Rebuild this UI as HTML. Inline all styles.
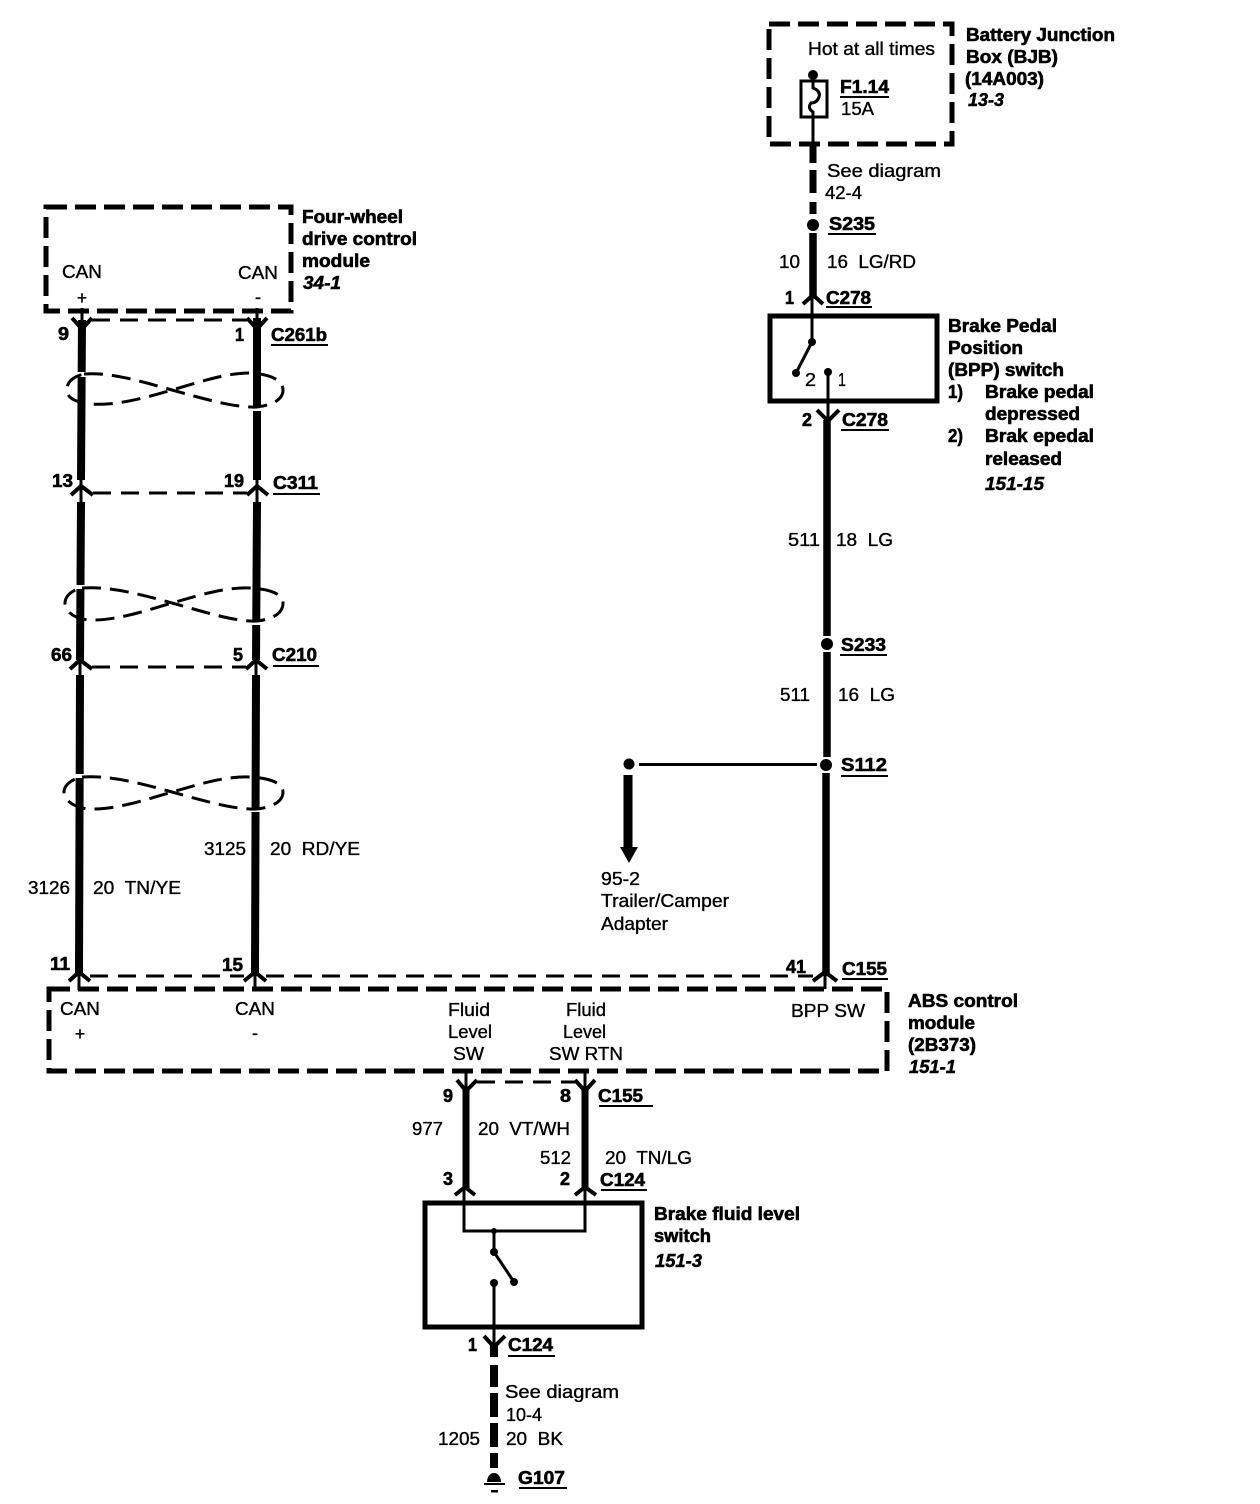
<!DOCTYPE html>
<html><head><meta charset="utf-8"><style>
html,body{margin:0;padding:0;background:#fff}
svg{display:block}
text{font-family:"Liberation Sans",sans-serif;font-size:18px;fill:#000;white-space:pre}
.b{font-weight:bold;stroke:#000;stroke-width:.6}
.i{font-weight:bold;font-style:italic;stroke:#000;stroke-width:.5}
.r{stroke:#000;stroke-width:.35}
.box{fill:none;stroke:#000;stroke-width:5;stroke-dasharray:21 8}
.solid{fill:none;stroke:#000;stroke-width:5}
.w{fill:none;stroke:#000;stroke-width:7.5}
.t{fill:none;stroke:#000;stroke-width:3}
.d{fill:none;stroke:#000;stroke-width:3;stroke-dasharray:18 10}
.c{fill:none;stroke:#000;stroke-width:4}
.tw{fill:none;stroke:#000;stroke-width:3;stroke-dasharray:19 9}
</style></head><body>
<svg width="1260" height="1504" viewBox="0 0 1260 1504" xmlns="http://www.w3.org/2000/svg">
<rect width="1260" height="1504" fill="#fff"/>
<!-- boxes -->
<rect class="box" x="769" y="24" width="183" height="120"/>
<rect class="box" x="46" y="207" width="245" height="104"/>
<rect class="box" x="49" y="989" width="838" height="82"/>
<rect class="solid" x="770" y="316" width="167" height="85"/>
<rect class="solid" x="425" y="1203" width="217" height="124"/>
<!-- BJB -->
<circle cx="813" cy="75" r="5"/>
<rect x="801" y="81" width="26" height="36" fill="#fff" stroke="#000" stroke-width="3"/>
<path class="t" d="M813 78V88Q821 91 819 97T811 103Q807 108 813 112V144"/>
<path d="M813 145V217" fill="none" stroke="#000" stroke-width="7" stroke-dasharray="18 7 23 9 12 99"/>
<circle cx="813" cy="225" r="6"/>
<path class="w" d="M813 233V296"/>
<path class="c" d="M803 304L813 295L823 304"/>
<path class="t" d="M812 296V342"/>
<!-- BPP -->
<circle cx="812" cy="342" r="4"/><circle cx="796" cy="373" r="4"/>
<path class="t" d="M812 342L796 373"/>
<circle cx="828" cy="372" r="4"/><path class="t" d="M828 372V420"/>
<path class="c" d="M817 410L828 421L839 410"/>
<path class="w" d="M827 420V636"/>
<circle cx="827" cy="644" r="6"/>
<path class="w" d="M827 652V757"/>
<circle cx="826" cy="765" r="6"/>
<path class="w" d="M826 773V975"/>
<path class="c" d="M813 981L825 972L837 981"/>
<path class="t" d="M825 975V989"/>
<!-- trailer branch -->
<circle cx="629" cy="764" r="5.5"/>
<path class="t" d="M639 764.5H817"/>
<path d="M628 775V848" fill="none" stroke="#000" stroke-width="9"/>
<path d="M620 847H638L629 863Z"/>
<!-- left wires -->
<path d="M82 320L81 480M81 502L80 660M80 675L79 975" fill="none" stroke="#000" stroke-width="8"/>
<path d="M257 318V480M257 502L256 660M256 675L255 975" fill="none" stroke="#000" stroke-width="8"/>
<path class="t" d="M81 478V504M257 478V504M80 658V677M256 658V677M79 973V990M255 973V990M82 308V325M257 308V325"/>
<!-- wire gaps at twists -->
<rect x="74" y="372" width="16" height="5" fill="#fff"/>
<rect x="250" y="407" width="16" height="4" fill="#fff"/>
<rect x="72" y="585" width="16" height="4" fill="#fff"/>
<rect x="248" y="621" width="16" height="4" fill="#fff"/>
<rect x="71" y="774" width="16" height="4" fill="#fff"/>
<rect x="248" y="808" width="16" height="4" fill="#fff"/>
<!-- twists -->
<path class="tw" d="M84 374C110 372 140 381 172 390C205 399 235 408 257 407C275 405 283 398 283 390C283 380 270 374 250 373C225 373 200 382 172 390C145 398 115 406 90 404C75 402 67 398 67 390C67 382 72 377 84 374"/>
<path class="tw" d="M82 588C108 586 140 594 172 603C205 612 235 622 257 621C275 619 283 612 283 603C283 594 270 589 250 588C225 587 200 595 172 603C145 611 115 621 88 620C73 618 65 611 65 603C65 596 72 590 82 588"/>
<path class="tw" d="M82 777C108 775 140 783 172 792C205 801 235 810 257 809C275 807 283 800 283 792C283 783 270 778 250 777C225 776 200 784 172 792C145 800 115 810 88 809C73 807 64 800 64 792C64 785 72 779 82 777"/>
<!-- connector chevrons -->
<path class="c" d="M72 318L82 329L92 318"/><path class="c" d="M247 318L257 329L267 318"/>
<path class="d" d="M92 320H247"/>
<path class="c" d="M71 495L81 486L93 495"/><path class="c" d="M247 495L257 486L268 495"/>
<path class="d" d="M93 493H247"/>
<path class="c" d="M70 669L80 660L92 669"/><path class="c" d="M246 669L256 660L267 669"/>
<path class="d" d="M92 667H246"/>
<path class="c" d="M69 981L79 972L90 981"/><path class="c" d="M244 981L255 972L266 981"/>
<path class="d" d="M90 976H244M266 976H813"/>
<!-- lower wires -->
<path class="t" d="M466 1071V1090M585 1071V1090"/>
<path class="c" d="M457 1080L466 1091L477 1080"/><path class="c" d="M575 1080L585 1091L595 1080"/>
<path class="d" d="M477 1082H575"/>
<path d="M466 1088V1188M585 1088V1188" fill="none" stroke="#000" stroke-width="7"/>
<path class="c" d="M455 1195L465 1187L475 1195"/><path class="c" d="M575 1195L585 1187L596 1195"/>
<path class="t" d="M464 1186V1231H585V1186"/>
<path class="t" d="M494 1231V1252"/>
<circle cx="494" cy="1231" r="3"/><circle cx="494" cy="1252" r="4"/><circle cx="514" cy="1282" r="4"/>
<path class="t" d="M494 1252L514 1282"/>
<circle cx="494" cy="1283" r="4"/><path class="t" d="M494 1283V1346"/>
<path class="c" d="M484 1336L494 1347L505 1336"/>
<path d="M494 1345V1357M494 1365V1387M494 1393V1417M494 1423V1447M494 1453V1468" fill="none" stroke="#000" stroke-width="8"/>
<path d="M487 1482A7 9 0 0 1 501 1482Z"/>
<rect x="484" y="1483" width="21" height="2"/>
<rect x="491" y="1490" width="7" height="2.5"/>
<!-- text: BJB -->
<text class="r" x="808" y="55" textLength="127" lengthAdjust="spacingAndGlyphs">Hot at all times</text>
<text class="b" x="840" y="93" textLength="49" lengthAdjust="spacingAndGlyphs">F1.14</text>
<rect x="840" y="96" width="49" height="2"/>
<text class="r" x="841" y="115" textLength="33" lengthAdjust="spacingAndGlyphs">15A</text>
<text class="b" x="966" y="41" textLength="149" lengthAdjust="spacingAndGlyphs">Battery Junction</text>
<text class="b" x="966" y="63" textLength="92" lengthAdjust="spacingAndGlyphs">Box (BJB)</text>
<text class="b" x="965" y="85" textLength="79" lengthAdjust="spacingAndGlyphs">(14A003)</text>
<text class="i" x="968" y="106" textLength="36" lengthAdjust="spacingAndGlyphs">13-3</text>
<text class="r" x="827" y="177" textLength="114" lengthAdjust="spacingAndGlyphs">See diagram</text>
<text class="r" x="825" y="199" textLength="37" lengthAdjust="spacingAndGlyphs">42-4</text>
<text class="b" x="829" y="230" textLength="46" lengthAdjust="spacingAndGlyphs">S235</text>
<rect x="828" y="233" width="48" height="2"/>
<text class="r" x="779" y="268" textLength="21" lengthAdjust="spacingAndGlyphs">10</text>
<text class="r" x="827" y="268" textLength="89" lengthAdjust="spacingAndGlyphs">16  LG/RD</text>
<text class="b" x="785" y="304" textLength="9" lengthAdjust="spacingAndGlyphs">1</text>
<text class="b" x="826" y="304" textLength="45" lengthAdjust="spacingAndGlyphs">C278</text>
<rect x="826" y="306" width="46" height="2"/>
<!-- BPP text -->
<text class="r" x="805" y="386" textLength="11" lengthAdjust="spacingAndGlyphs">2</text>
<text class="r" x="838" y="386" textLength="8" lengthAdjust="spacingAndGlyphs">1</text>
<text class="b" x="948" y="332" textLength="109" lengthAdjust="spacingAndGlyphs">Brake Pedal</text>
<text class="b" x="948" y="354" textLength="75" lengthAdjust="spacingAndGlyphs">Position</text>
<text class="b" x="948" y="376" textLength="116" lengthAdjust="spacingAndGlyphs">(BPP) switch</text>
<text class="b" x="948" y="398" textLength="15" lengthAdjust="spacingAndGlyphs">1)</text>
<text class="b" x="985" y="398" textLength="109" lengthAdjust="spacingAndGlyphs">Brake pedal</text>
<text class="b" x="985" y="420" textLength="95" lengthAdjust="spacingAndGlyphs">depressed</text>
<text class="b" x="948" y="442" textLength="15" lengthAdjust="spacingAndGlyphs">2)</text>
<text class="b" x="985" y="442" textLength="109" lengthAdjust="spacingAndGlyphs">Brak epedal</text>
<text class="b" x="985" y="465" textLength="77" lengthAdjust="spacingAndGlyphs">released</text>
<text class="i" x="985" y="490" textLength="59" lengthAdjust="spacingAndGlyphs">151-15</text>
<text class="b" x="802" y="426" textLength="10" lengthAdjust="spacingAndGlyphs">2</text>
<text class="b" x="842" y="426" textLength="46" lengthAdjust="spacingAndGlyphs">C278</text>
<rect x="841" y="429" width="48" height="2"/>
<text class="r" x="788" y="546" textLength="32" lengthAdjust="spacingAndGlyphs">511</text>
<text class="r" x="836" y="546" textLength="57" lengthAdjust="spacingAndGlyphs">18  LG</text>
<text class="b" x="841" y="651" textLength="45" lengthAdjust="spacingAndGlyphs">S233</text>
<rect x="840" y="654" width="47" height="2"/>
<text class="r" x="780" y="701" textLength="30" lengthAdjust="spacingAndGlyphs">511</text>
<text class="r" x="838" y="701" textLength="57" lengthAdjust="spacingAndGlyphs">16  LG</text>
<text class="b" x="841" y="771" textLength="46" lengthAdjust="spacingAndGlyphs">S112</text>
<rect x="841" y="775" width="47" height="2"/>
<text class="r" x="601" y="885" textLength="39" lengthAdjust="spacingAndGlyphs">95-2</text>
<text class="r" x="601" y="907" textLength="128" lengthAdjust="spacingAndGlyphs">Trailer/Camper</text>
<text class="r" x="601" y="930" textLength="67" lengthAdjust="spacingAndGlyphs">Adapter</text>
<text class="b" x="786" y="973" textLength="20" lengthAdjust="spacingAndGlyphs">41</text>
<text class="b" x="842" y="975" textLength="45" lengthAdjust="spacingAndGlyphs">C155</text>
<rect x="842" y="978" width="46" height="2"/>
<!-- ABS -->
<text class="b" x="908" y="1007" textLength="110" lengthAdjust="spacingAndGlyphs">ABS control</text>
<text class="b" x="908" y="1029" textLength="67" lengthAdjust="spacingAndGlyphs">module</text>
<text class="b" x="908" y="1051" textLength="68" lengthAdjust="spacingAndGlyphs">(2B373)</text>
<text class="i" x="909" y="1073" textLength="47" lengthAdjust="spacingAndGlyphs">151-1</text>
<text class="r" x="791" y="1017" textLength="74" lengthAdjust="spacingAndGlyphs">BPP SW</text>
<text class="r" x="448" y="1016" textLength="42" lengthAdjust="spacingAndGlyphs">Fluid</text>
<text class="r" x="448" y="1038" textLength="44" lengthAdjust="spacingAndGlyphs">Level</text>
<text class="r" x="453" y="1060" textLength="31" lengthAdjust="spacingAndGlyphs">SW</text>
<text class="r" x="566" y="1016" textLength="40" lengthAdjust="spacingAndGlyphs">Fluid</text>
<text class="r" x="563" y="1038" textLength="43" lengthAdjust="spacingAndGlyphs">Level</text>
<text class="r" x="549" y="1060" textLength="74" lengthAdjust="spacingAndGlyphs">SW RTN</text>
<text class="r" x="60" y="1015" textLength="40" lengthAdjust="spacingAndGlyphs">CAN</text>
<text class="r" x="235" y="1015" textLength="40" lengthAdjust="spacingAndGlyphs">CAN</text>
<text class="r" x="75" y="1040" textLength="10" lengthAdjust="spacingAndGlyphs">+</text>
<text class="r" x="252" y="1039" textLength="6" lengthAdjust="spacingAndGlyphs">-</text>
<text class="b" x="50" y="970" textLength="20" lengthAdjust="spacingAndGlyphs">11</text>
<text class="b" x="222" y="971" textLength="21" lengthAdjust="spacingAndGlyphs">15</text>
<text class="r" x="28" y="894" textLength="42" lengthAdjust="spacingAndGlyphs">3126</text>
<text class="r" x="93" y="894" textLength="88" lengthAdjust="spacingAndGlyphs">20  TN/YE</text>
<text class="r" x="204" y="855" textLength="42" lengthAdjust="spacingAndGlyphs">3125</text>
<text class="r" x="270" y="855" textLength="90" lengthAdjust="spacingAndGlyphs">20  RD/YE</text>
<!-- four wheel -->
<text class="b" x="302" y="223" textLength="101" lengthAdjust="spacingAndGlyphs">Four-wheel</text>
<text class="b" x="302" y="245" textLength="115" lengthAdjust="spacingAndGlyphs">drive control</text>
<text class="b" x="302" y="267" textLength="68" lengthAdjust="spacingAndGlyphs">module</text>
<text class="i" x="303" y="289" textLength="38" lengthAdjust="spacingAndGlyphs">34-1</text>
<text class="r" x="62" y="278" textLength="40" lengthAdjust="spacingAndGlyphs">CAN</text>
<text class="r" x="238" y="279" textLength="40" lengthAdjust="spacingAndGlyphs">CAN</text>
<text class="r" x="77" y="304" textLength="10" lengthAdjust="spacingAndGlyphs">+</text>
<text class="r" x="255" y="303" textLength="6" lengthAdjust="spacingAndGlyphs">-</text>
<text class="b" x="58" y="340" textLength="11" lengthAdjust="spacingAndGlyphs">9</text>
<text class="b" x="235" y="341" textLength="9" lengthAdjust="spacingAndGlyphs">1</text>
<text class="b" x="271" y="341" textLength="56" lengthAdjust="spacingAndGlyphs">C261b</text>
<rect x="271" y="344" width="57" height="2"/>
<text class="b" x="52" y="487" textLength="21" lengthAdjust="spacingAndGlyphs">13</text>
<text class="b" x="224" y="487" textLength="20" lengthAdjust="spacingAndGlyphs">19</text>
<text class="b" x="273" y="489" textLength="45" lengthAdjust="spacingAndGlyphs">C311</text>
<rect x="273" y="493" width="47" height="2"/>
<text class="b" x="51" y="661" textLength="21" lengthAdjust="spacingAndGlyphs">66</text>
<text class="b" x="233" y="661" textLength="10" lengthAdjust="spacingAndGlyphs">5</text>
<text class="b" x="272" y="661" textLength="45" lengthAdjust="spacingAndGlyphs">C210</text>
<rect x="273" y="665" width="46" height="2"/>
<!-- lower -->
<text class="b" x="443" y="1102" textLength="10" lengthAdjust="spacingAndGlyphs">9</text>
<text class="b" x="560" y="1102" textLength="11" lengthAdjust="spacingAndGlyphs">8</text>
<text class="b" x="598" y="1102" textLength="45" lengthAdjust="spacingAndGlyphs">C155</text>
<rect x="599" y="1105" width="54" height="2"/>
<text class="r" x="412" y="1135" textLength="31" lengthAdjust="spacingAndGlyphs">977</text>
<text class="r" x="478" y="1135" textLength="92" lengthAdjust="spacingAndGlyphs">20  VT/WH</text>
<text class="r" x="540" y="1164" textLength="31" lengthAdjust="spacingAndGlyphs">512</text>
<text class="r" x="605" y="1164" textLength="87" lengthAdjust="spacingAndGlyphs">20  TN/LG</text>
<text class="b" x="443" y="1185" textLength="10" lengthAdjust="spacingAndGlyphs">3</text>
<text class="b" x="560" y="1185" textLength="10" lengthAdjust="spacingAndGlyphs">2</text>
<text class="b" x="600" y="1186" textLength="45" lengthAdjust="spacingAndGlyphs">C124</text>
<rect x="601" y="1189" width="46" height="2"/>
<text class="b" x="654" y="1220" textLength="146" lengthAdjust="spacingAndGlyphs">Brake fluid level</text>
<text class="b" x="654" y="1242" textLength="57" lengthAdjust="spacingAndGlyphs">switch</text>
<text class="i" x="655" y="1267" textLength="47" lengthAdjust="spacingAndGlyphs">151-3</text>
<text class="b" x="468" y="1351" textLength="9" lengthAdjust="spacingAndGlyphs">1</text>
<text class="b" x="508" y="1351" textLength="45" lengthAdjust="spacingAndGlyphs">C124</text>
<rect x="508" y="1355" width="47" height="2"/>
<text class="r" x="505" y="1398" textLength="114" lengthAdjust="spacingAndGlyphs">See diagram</text>
<text class="r" x="506" y="1421" textLength="36" lengthAdjust="spacingAndGlyphs">10-4</text>
<text class="r" x="438" y="1445" textLength="42" lengthAdjust="spacingAndGlyphs">1205</text>
<text class="r" x="506" y="1445" textLength="57" lengthAdjust="spacingAndGlyphs">20  BK</text>
<text class="b" x="518" y="1484" textLength="47" lengthAdjust="spacingAndGlyphs">G107</text>
<rect x="519" y="1487" width="48" height="2"/>
</svg>
</body></html>
